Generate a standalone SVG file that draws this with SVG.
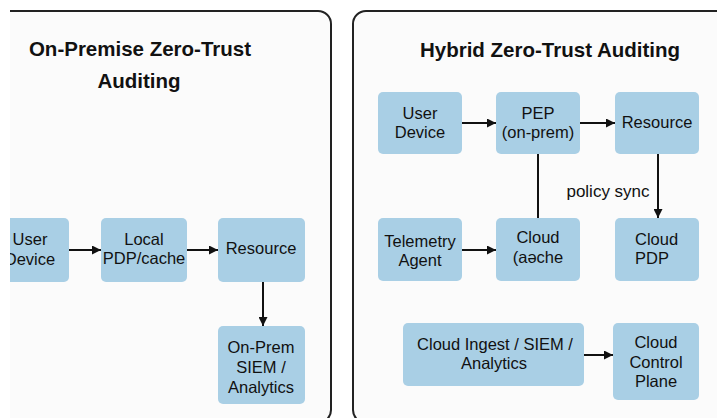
<svg xmlns="http://www.w3.org/2000/svg" width="717" height="418" viewBox="0 0 717 418">
  <defs>
    <marker id="arrow" viewBox="0 0 10 10" refX="10" refY="5" markerWidth="10" markerHeight="9" markerUnits="userSpaceOnUse" orient="auto">
      <path d="M0,0 L10,5 L0,10 z" fill="#111"/>
    </marker>
  </defs>
  <style>
    .panel { fill: #fbfbfb; stroke: #222; stroke-width: 2; }
    .box { fill: #a9cfe5; }
    .title { font-family: "Liberation Sans", Arial, sans-serif; font-weight: bold; font-size: 20.5px; fill: #111; text-anchor: middle; }
    .lbl { font-family: "Liberation Sans", Arial, sans-serif; font-size: 16.5px; fill: #111; text-anchor: middle; }
    .note { font-family: "Liberation Sans", Arial, sans-serif; font-size: 17px; fill: #111; text-anchor: middle; }
    .edge { stroke: #111; stroke-width: 2; fill: none; }
    .arr { marker-end: url(#arrow); }
  </style>

  <rect x="0" y="0" width="717" height="418" fill="#ffffff"/>

  <!-- panels -->
  <g id="panel-onprem">
    <rect class="panel" x="-30" y="11" width="361" height="412" rx="13"/>
    <text class="title" x="140" y="56">On-Premise Zero-Trust</text>
    <text class="title" x="139" y="88">Auditing</text>
  </g>
  <g id="panel-hybrid">
    <rect class="panel" x="353" y="11" width="400" height="412" rx="13"/>
    <text class="title" x="550" y="57">Hybrid Zero-Trust Auditing</text>
  </g>

  <!-- connectors -->
  <g id="connectors">
    <line class="edge arr" x1="69" y1="250" x2="101" y2="250"/>
    <line class="edge arr" x1="187" y1="250" x2="218" y2="250"/>
    <line class="edge arr" x1="263" y1="282" x2="263" y2="326"/>

    <line class="edge arr" x1="462" y1="123" x2="496" y2="123"/>
    <line class="edge arr" x1="580" y1="123" x2="615" y2="123"/>
    <line class="edge" x1="538" y1="154" x2="538" y2="218"/>
    <line class="edge arr" x1="658" y1="154" x2="658" y2="218"/>
    <line class="edge arr" x1="462" y1="250" x2="496" y2="250"/>
    <line class="edge arr" x1="584" y1="355" x2="613" y2="355"/>
    <text class="note" x="608" y="197">policy sync</text>
  </g>

  <!-- on-premise nodes -->
  <g id="op-user-device">
    <rect class="box" x="-10" y="218" width="79" height="64" rx="5"/>
    <text class="lbl" x="30" y="245">User</text>
    <text class="lbl" x="30" y="265">Device</text>
  </g>
  <g id="op-local-pdp">
    <rect class="box" x="101" y="218" width="86" height="64" rx="5"/>
    <text class="lbl" x="144" y="245">Local</text>
    <text class="lbl" x="144" y="264">PDP/cache</text>
  </g>
  <g id="op-resource">
    <rect class="box" x="218" y="218" width="87" height="64" rx="5"/>
    <text class="lbl" x="261" y="254">Resource</text>
  </g>
  <g id="op-siem">
    <rect class="box" x="218" y="326" width="87" height="78" rx="5"/>
    <text class="lbl" x="261" y="353">On-Prem</text>
    <text class="lbl" x="261" y="373">SIEM /</text>
    <text class="lbl" x="261" y="393">Analytics</text>
  </g>

  <!-- hybrid nodes -->
  <g id="hy-user-device">
    <rect class="box" x="378" y="92" width="84" height="62" rx="5"/>
    <text class="lbl" x="420" y="119">User</text>
    <text class="lbl" x="420" y="138">Device</text>
  </g>
  <g id="hy-pep">
    <rect class="box" x="496" y="92" width="84" height="62" rx="5"/>
    <text class="lbl" x="538" y="119">PEP</text>
    <text class="lbl" x="538" y="138">(on-prem)</text>
  </g>
  <g id="hy-resource">
    <rect class="box" x="615" y="92" width="84" height="62" rx="5"/>
    <text class="lbl" x="657" y="128">Resource</text>
  </g>
  <g id="hy-telemetry">
    <rect class="box" x="378" y="218" width="84" height="63" rx="5"/>
    <text class="lbl" x="420" y="247">Telemetry</text>
    <text class="lbl" x="420" y="266">Agent</text>
  </g>
  <g id="hy-cloud-cache">
    <rect class="box" x="496" y="218" width="84" height="63" rx="5"/>
    <text class="lbl" x="538" y="243">Cloud</text>
    <text class="lbl" x="538" y="263">(aəche</text>
  </g>
  <g id="hy-cloud-pdp">
    <rect class="box" x="615" y="218" width="84" height="63" rx="5"/>
    <text class="lbl" x="635" y="245" style="text-anchor:start">Cloud</text>
    <text class="lbl" x="635" y="264" style="text-anchor:start">PDP</text>
  </g>
  <g id="hy-cloud-ingest">
    <rect class="box" x="403" y="323" width="181" height="63" rx="5"/>
    <text class="lbl" x="495" y="350">Cloud Ingest / SIEM /</text>
    <text class="lbl" x="494" y="369">Analytics</text>
  </g>
  <g id="hy-control-plane">
    <rect class="box" x="613" y="323" width="86" height="77" rx="5"/>
    <text class="lbl" x="656" y="348">Cloud</text>
    <text class="lbl" x="656" y="368">Control</text>
    <text class="lbl" x="656" y="387">Plane</text>
  </g>

  <!-- plain strip along the left edge -->
  <rect x="0" y="0" width="10" height="418" fill="#ffffff"/>
</svg>
